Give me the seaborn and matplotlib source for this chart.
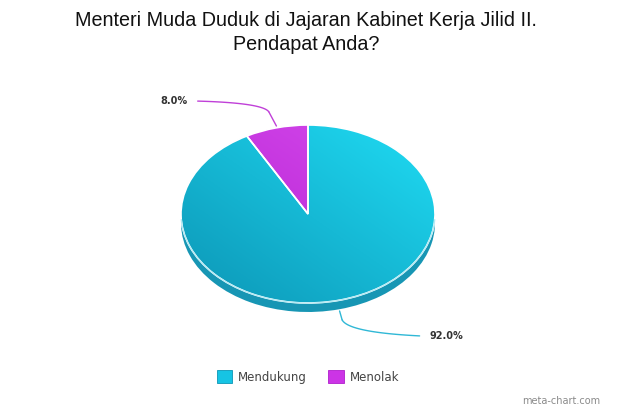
import numpy as np
import matplotlib
matplotlib.use('Agg')
import matplotlib.pyplot as plt
from matplotlib.patches import Patch, Rectangle
import matplotlib.colors as mcolors
import seaborn as sns

# data
labels = ['Mendukung', 'Menolak']
shares = [92.0, 8.0]
title_lines = ['Menteri Muda Duduk di Jajaran Kabinet Kerja Jilid II.', 'Pendapat Anda?']

colors_main = ['#16c4e4', '#cc34e6']
colors_light = ['#20dcf4', '#d84cf0']
colors_dark = ['#0c96b6', '#b01ecc']
colors_side = ['#1796b4', '#9a1cb4']
line_colors = ['#30b8d6', '#c040d8']

sns.set_theme(style='white')
plt.rcParams['font.family'] = ['Liberation Sans', 'DejaVu Sans']

W, H = 620, 413
cx, cy, rx, ry, depth = 308, 214, 127, 89, 9

fig = plt.figure(figsize=(W / 100, H / 100), dpi=100)
fig.patch.set_facecolor('white')
ax = fig.add_axes([0, 0, 1, 1])

d = depth / ry

# side of the 3D pie
ax.add_patch(Rectangle((-1, -d), 2, d, facecolor=colors_side[0], edgecolor='none', zorder=1))
side, _ = ax.pie(shares, colors=colors_side, startangle=90, counterclock=False,
                 center=(0, -d), radius=1, frame=True,
                 wedgeprops=dict(edgecolor='none', zorder=1))

# top surface (fill), gradient on top, then white borders
wedges, _ = ax.pie(shares, colors=colors_main, startangle=90, counterclock=False,
                   center=(0, 0), radius=1, frame=True,
                   wedgeprops=dict(edgecolor='none', zorder=2))
borders, _ = ax.pie(shares, colors=['none', 'none'], startangle=90, counterclock=False,
                    center=(0, 0), radius=1, frame=True,
                    wedgeprops=dict(edgecolor='white', linewidth=1.2, zorder=4))
for b in borders:
    b.set_facecolor('none')

yy, xx = np.mgrid[-1:1:200j, -1:1:200j]
t = np.clip((xx - yy + 2) / 4, 0, 1)  # lighter towards upper right
for w, cl, cdk in zip(wedges, colors_light, colors_dark):
    a = np.array(mcolors.to_rgb(cdk))
    b = np.array(mcolors.to_rgb(cl))
    img = a[None, None, :] * (1 - t[..., None]) + b[None, None, :] * t[..., None]
    im = ax.imshow(img, extent=(-1, 1, -1, 1), zorder=3, aspect='auto')
    im.set_clip_path(w)

ax.set_aspect('auto')
ax.set_xlim(-cx / rx, (W - cx) / rx)
ax.set_ylim((cy - H) / ry, cy / ry)
ax.axis('off')

# rim highlight on the lower edge
th = np.linspace(np.pi * 1.02, np.pi * 1.98, 200)
ax.plot(np.cos(th), np.sin(th), color='#b4eaf4', linewidth=0.9, zorder=5)

# percentage labels with leader lines
start = 90
for i, s in enumerate(shares):
    mid = np.deg2rad(start - s * 3.6 / 2)
    start -= s * 3.6
    px, py = np.cos(mid), np.sin(mid)
    if py > 0:
        p0 = (px, py + 0.02)
        p1 = (px - 0.06, py + 0.18)
        p2 = (px - 0.62, py + 0.3)
        tx, ha = p2[0] - 0.08, 'right'
    else:
        p0 = (px, py - d - 0.02)
        p1 = (px + 0.02, py - d - 0.12)
        p2 = (px + 0.63, py - d - 0.3)
        tx, ha = p2[0] + 0.08, 'left'
    ax.plot([p0[0], p1[0]], [p0[1], p1[1]], color=line_colors[i], linewidth=1, zorder=5)
    u = np.linspace(0, 1, 30)
    ctrl = (p1[0] + 0.05 * (1 if py < 0 else -1), p1[1] + (-0.14 if py < 0 else 0.1))
    bx = (1 - u) ** 2 * p1[0] + 2 * (1 - u) * u * ctrl[0] + u ** 2 * p2[0]
    by = (1 - u) ** 2 * p1[1] + 2 * (1 - u) * u * ctrl[1] + u ** 2 * p2[1]
    ax.plot(bx, by, color=line_colors[i], linewidth=1, zorder=5)
    ax.text(tx, p2[1], f'{s:.1f}%', ha=ha, va='center', fontsize=7,
            fontweight='bold', color='#333333', family=['DejaVu Sans'])

for ty, line in zip([20, 45], title_lines):
    fig.text(306 / W, 1 - ty / H, line, ha='center', va='center', fontsize=14.2,
             color='#111111')

handles = [Patch(facecolor=c, edgecolor=e, linewidth=0.6) for c, e in zip(colors_main, colors_dark)]
leg = fig.legend(handles, labels, loc='center', bbox_to_anchor=(308 / W, 1 - 377 / H),
                 ncol=2, frameon=False, handlelength=1.3, handleheight=1.3,
                 columnspacing=1.8, handletextpad=0.5,
                 prop={'family': 'DejaVu Sans', 'size': 8.5})
for txt in leg.get_texts():
    txt.set_color('#444444')

fig.text(600 / W, 1 - 401 / H, 'meta-chart.com', ha='right', va='center',
         fontsize=7, color='#8a8a8a', family=['DejaVu Sans'])

fig.savefig('out.png', dpi=100, facecolor='white')
